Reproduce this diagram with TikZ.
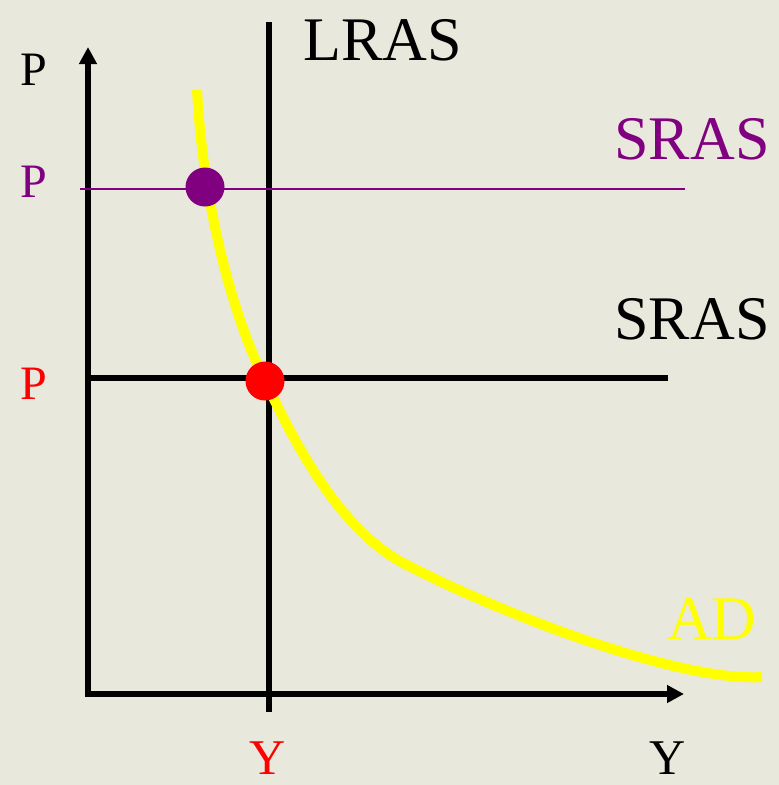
\documentclass[tikz,border=0pt]{standalone}
\usepackage{fontspec}
\setmainfont{Liberation Serif}
\usetikzlibrary{arrows.meta}
\definecolor{bg}{HTML}{E8E8DC}
\definecolor{pur}{HTML}{800080}
\definecolor{yel}{HTML}{FFFF00}
\tikzset{
  lbl/.style={inner sep=0pt, anchor=center},
  axis/.style={line width=6pt, -{Triangle[length=17pt,width=17pt]}},
  dot/.style={circle, inner sep=0pt, minimum size=39pt},
}
\begin{document}
\begin{tikzpicture}[x=1pt,y=-1pt]
\fill[bg] (0,0) rectangle (779,785);
\useasboundingbox (0,0) rectangle (779,785);
% coordinates
\coordinate (Ytop) at (88,47);
\coordinate (Xend) at (684,694);
\coordinate (Lt) at (269,22);
\coordinate (Lb) at (269,712);
\coordinate (Sl) at (88,378);
\coordinate (Sr) at (668,378);
\coordinate (Pl) at (80,189);
\coordinate (Pr) at (685,189);
% axes
\draw[axis] (88,697) -- (Ytop);
\draw[axis] (85,694) -- (Xend);
% LRAS
\draw[line width=6pt] (Lt) -- (Lb);
% SRAS black
\draw[line width=6pt] (Sl) -- (Sr);
% SRAS purple
\draw[pur, line width=2pt] (Pl) -- (Pr);
% AD curve
\draw[yel, line width=10pt] (197,90) .. controls (203,200) and (230,310) .. (265,381)
  .. controls (292,436) and (335,526) .. (403,563)
  .. controls (503,615) and (680,682) .. (762,677);
% dots
\node[dot, fill=pur] (dp) at (205,187) {};
\node[dot, fill=red] (dr) at (265,381) {};
% labels
\node[lbl, font=\fontsize{48}{48}\selectfont] (Plab) at (34,70) {P};
\node[lbl, font=\fontsize{48}{48}\selectfont, text=pur] (Pplab) at (34,182) {P};
\node[lbl, font=\fontsize{48}{48}\selectfont, text=red] (Prlab) at (34,384) {P};
\node[lbl, font=\fontsize{50}{50}\selectfont, text=red] (Yrlab) at (268,758) {Y};
\node[lbl, font=\fontsize{50}{50}\selectfont] (Ylab) at (668,758) {Y};
\node[lbl, font=\fontsize{62}{62}\selectfont] (LRAS) at (383,40) {LRAS};
\node[lbl, font=\fontsize{62}{62}\selectfont, text=pur] (SRASp) at (692,139) {SRAS};
\node[lbl, font=\fontsize{62}{62}\selectfont] (SRAS) at (692,319) {SRAS};
\node[lbl, font=\fontsize{62}{62}\selectfont, text=yel] (AD) at (712,619) {AD};
\end{tikzpicture}
\end{document}
